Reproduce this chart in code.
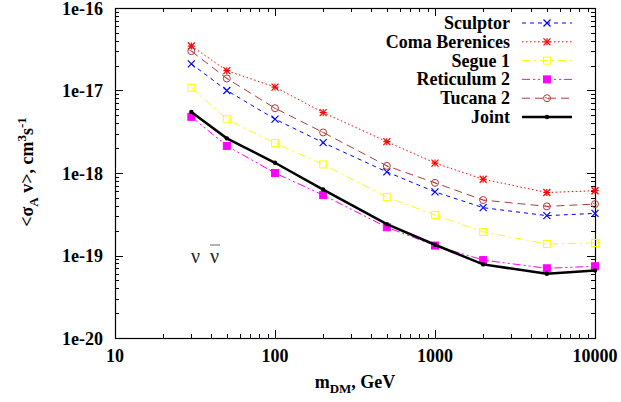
<!DOCTYPE html>
<html>
<head>
<meta charset="utf-8">
<script src="https://cdn.jsdelivr.net/npm/d3@7"></script>
<style>
  body { margin: 0; background: #fff; }
</style>
</head>
<body>
<div id="container"></div>
<script>
const WIDTH = 621;
const HEIGHT = 402;
const MARGIN = { left: 115, right: 26, top: 8, bottom: 64 };
const FONT = "'Liberation Serif', serif";

const masses = [30, 50, 100, 200, 500, 1000, 2000, 5000, 10000];
const sculptor = [2.1e-17, 1.0e-17, 4.5e-18, 2.33e-18, 1.03e-18, 5.9e-19, 3.8e-19, 3.04e-19, 3.24e-19];
const comaBerenices = [3.46e-17, 1.74e-17, 1.1e-17, 5.4e-18, 2.4e-18, 1.32e-18, 8.4e-19, 5.8e-19, 6.1e-19];
const segue1 = [1.08e-17, 4.47e-18, 2.3e-18, 1.27e-18, 5.1e-19, 3.1e-19, 1.93e-19, 1.38e-19, 1.42e-19];
const reticulum2 = [4.8e-18, 2.13e-18, 1.0e-18, 5.4e-19, 2.2e-19, 1.32e-19, 8.8e-20, 7.0e-20, 7.4e-20];
const tucana2 = [3.0e-17, 1.4e-17, 6.1e-18, 3.1e-18, 1.22e-18, 7.6e-19, 4.7e-19, 3.94e-19, 4.2e-19];
const joint = [5.5e-18, 2.63e-18, 1.33e-18, 6.3e-19, 2.4e-19, 1.35e-19, 7.8e-20, 6.0e-20, 6.6e-20];

const xTicks = [10, 100, 1000, 10000];
const yTicks = [1e-20, 1e-19, 1e-18, 1e-17, 1e-16];

const series = [
  { name: "Sculptor", values: sculptor, color: "#0000ff", dash: "4,4", marker: "x", width: 1 },
  { name: "Coma Berenices", values: comaBerenices, color: "#ff0000", dash: "1.5,2.5", marker: "star", width: 1 },
  { name: "Segue 1", values: segue1, color: "#ffff00", dash: "8,4,2,4", marker: "box", width: 1 },
  { name: "Reticulum 2", values: reticulum2, color: "#ff00ff", dash: "8,3,2,3,2,3", marker: "fbox", width: 1 },
  { name: "Tucana 2", values: tucana2, color: "#b03c3c", dash: "8,5", marker: "circle", width: 1 },
  { name: "Joint", values: joint, color: "#000000", dash: null, marker: "dot", width: 2.5 }
];

const svg = d3
  .select("div#container")
  .append("svg")
  .attr("width", WIDTH)
  .attr("height", HEIGHT);

const xScale = d3
  .scaleLog()
  .domain([10, 10000])
  .range([MARGIN.left, WIDTH - MARGIN.right]);
const yScale = d3
  .scaleLog()
  .domain([1e-20, 1e-16])
  .range([HEIGHT - MARGIN.bottom, MARGIN.top]);

const x0 = MARGIN.left, x1 = WIDTH - MARGIN.right;
const y0 = HEIGHT - MARGIN.bottom, y1 = MARGIN.top;

// every label goes through this so the serif font is set on the element itself
function label(parent, x, y, size, bold) {
  return parent
    .append("text")
    .attr("x", x)
    .attr("y", y)
    .style("font-family", FONT)
    .style("font-size", size + "px")
    .style("font-weight", bold ? "bold" : "normal");
}

// minor + major ticks (inward, on all four sides)
const xMinor = [], yMinor = [];
for (let d = 10; d < 10000; d *= 10) for (let k = 2; k < 10; k++) xMinor.push(d * k);
for (let e = -20; e < -16; e++) for (let k = 2; k < 10; k++) yMinor.push(k * Math.pow(10, e));

const axisG = svg.append("g").attr("stroke", "#000").attr("stroke-width", 1);
xMinor.forEach((v) => {
  const x = Math.round(xScale(v)) + 0.5;
  axisG.append("line").attr("x1", x).attr("x2", x).attr("y1", y0).attr("y2", y0 - 4);
  axisG.append("line").attr("x1", x).attr("x2", x).attr("y1", y1).attr("y2", y1 + 4);
});
xTicks.forEach((v) => {
  const x = Math.round(xScale(v)) + 0.5;
  axisG.append("line").attr("x1", x).attr("x2", x).attr("y1", y0).attr("y2", y0 - 8);
  axisG.append("line").attr("x1", x).attr("x2", x).attr("y1", y1).attr("y2", y1 + 8);
});
yMinor.forEach((v) => {
  const y = Math.round(yScale(v)) + 0.5;
  axisG.append("line").attr("x1", x0).attr("x2", x0 + 4).attr("y1", y).attr("y2", y);
  axisG.append("line").attr("x1", x1).attr("x2", x1 - 4).attr("y1", y).attr("y2", y);
});
yTicks.forEach((v) => {
  const y = Math.round(yScale(v)) + 0.5;
  axisG.append("line").attr("x1", x0).attr("x2", x0 + 8).attr("y1", y).attr("y2", y);
  axisG.append("line").attr("x1", x1).attr("x2", x1 - 8).attr("y1", y).attr("y2", y);
});

svg
  .append("rect")
  .attr("x", x0 + 0.5)
  .attr("y", y1 + 0.5)
  .attr("width", x1 - x0)
  .attr("height", y0 - y1)
  .attr("fill", "none")
  .attr("stroke", "#000")
  .attr("stroke-width", 1.2);

// tick labels
xTicks.forEach((d) => {
  label(svg, xScale(d), y0 + 24, 18, true).attr("text-anchor", "middle").text(d);
});
yTicks.forEach((d) => {
  label(svg, x0 - 12, yScale(d) + 6.5, 18, true)
    .attr("text-anchor", "end")
    .text("1e" + Math.round(Math.log10(d)));
});

// axis titles
const xt = label(svg, 355, 388, 18, true).attr("text-anchor", "middle");
xt.append("tspan").text("m");
xt.append("tspan").style("font-size", "13px").attr("dy", 5).text("DM");
xt.append("tspan").attr("dy", -5).text(", GeV");

const yt = label(svg, 0, 0, 18, true)
  .attr("transform", "translate(33,172) rotate(-90)")
  .attr("text-anchor", "middle");
yt.append("tspan").text("<\u03c3");
yt.append("tspan").style("font-size", "13px").attr("dy", 5).text("A");
yt.append("tspan").attr("dy", -5).text(" v>, cm");
yt.append("tspan").style("font-size", "13px").attr("dy", -7).text("3");
yt.append("tspan").attr("dy", 7).text("s");
yt.append("tspan").style("font-size", "13px").attr("dy", -7).text("-1");

// nu nu-bar label
label(svg, 191, 263, 20, false).attr("fill", "#222").text("\u03bd");
label(svg, 210, 263, 20, false).attr("fill", "#222").text("\u03bd");
svg
  .append("line")
  .attr("x1", 210)
  .attr("x2", 220)
  .attr("y1", 245)
  .attr("y2", 245)
  .attr("stroke", "#666")
  .attr("stroke-width", 1);

function drawMarker(g, type, x, y, color) {
  const s = 3.5;
  if (type === "x" || type === "star") {
    g.append("path")
      .attr("d", `M${x - s},${y - s}L${x + s},${y + s}M${x - s},${y + s}L${x + s},${y - s}`)
      .attr("stroke", color).attr("stroke-width", 1.2).attr("fill", "none");
  }
  if (type === "star") {
    g.append("path")
      .attr("d", `M${x - s},${y}L${x + s},${y}M${x},${y - s}L${x},${y + s}`)
      .attr("stroke", color).attr("stroke-width", 1.2).attr("fill", "none");
  }
  if (type === "box" || type === "fbox") {
    g.append("rect")
      .attr("x", x - s).attr("y", y - s).attr("width", 2 * s).attr("height", 2 * s)
      .attr("stroke", color).attr("stroke-width", 1)
      .attr("fill", type === "fbox" ? color : "none");
  }
  if (type === "circle") {
    g.append("circle")
      .attr("cx", x).attr("cy", y).attr("r", s)
      .attr("stroke", color).attr("stroke-width", 1).attr("fill", "none");
    g.append("line")
      .attr("x1", x - 2).attr("x2", x + 2).attr("y1", y - 1).attr("y2", y + 1)
      .attr("stroke", color).attr("stroke-width", 0.8);
  }
  if (type === "dot") {
    g.append("circle").attr("cx", x).attr("cy", y).attr("r", 2.2).attr("fill", color);
  }
}

const line = d3
  .line()
  .x((d) => xScale(d[0]))
  .y((d) => yScale(d[1]));

const plot = svg.append("g");
series.forEach((s) => {
  const pts = masses.map((m, i) => [m, s.values[i]]);
  plot
    .append("path")
    .datum(pts)
    .attr("d", line)
    .attr("fill", "none")
    .attr("stroke", s.color)
    .attr("stroke-width", s.width)
    .attr("stroke-dasharray", s.dash);
  pts.forEach((p) => drawMarker(plot, s.marker, xScale(p[0]), yScale(p[1]), s.color));
});

// legend
const legend = svg.append("g");
series.forEach((s, i) => {
  const ly = 23 + i * 18.8;
  label(legend, 510, ly + 6, 18, true).attr("text-anchor", "end").text(s.name);
  legend
    .append("line")
    .attr("x1", 522)
    .attr("x2", 572)
    .attr("y1", ly)
    .attr("y2", ly)
    .attr("stroke", s.color)
    .attr("stroke-width", s.width)
    .attr("stroke-dasharray", s.dash);
  drawMarker(legend, s.marker, 547, ly, s.color);
});
</script>
</body>
</html>
